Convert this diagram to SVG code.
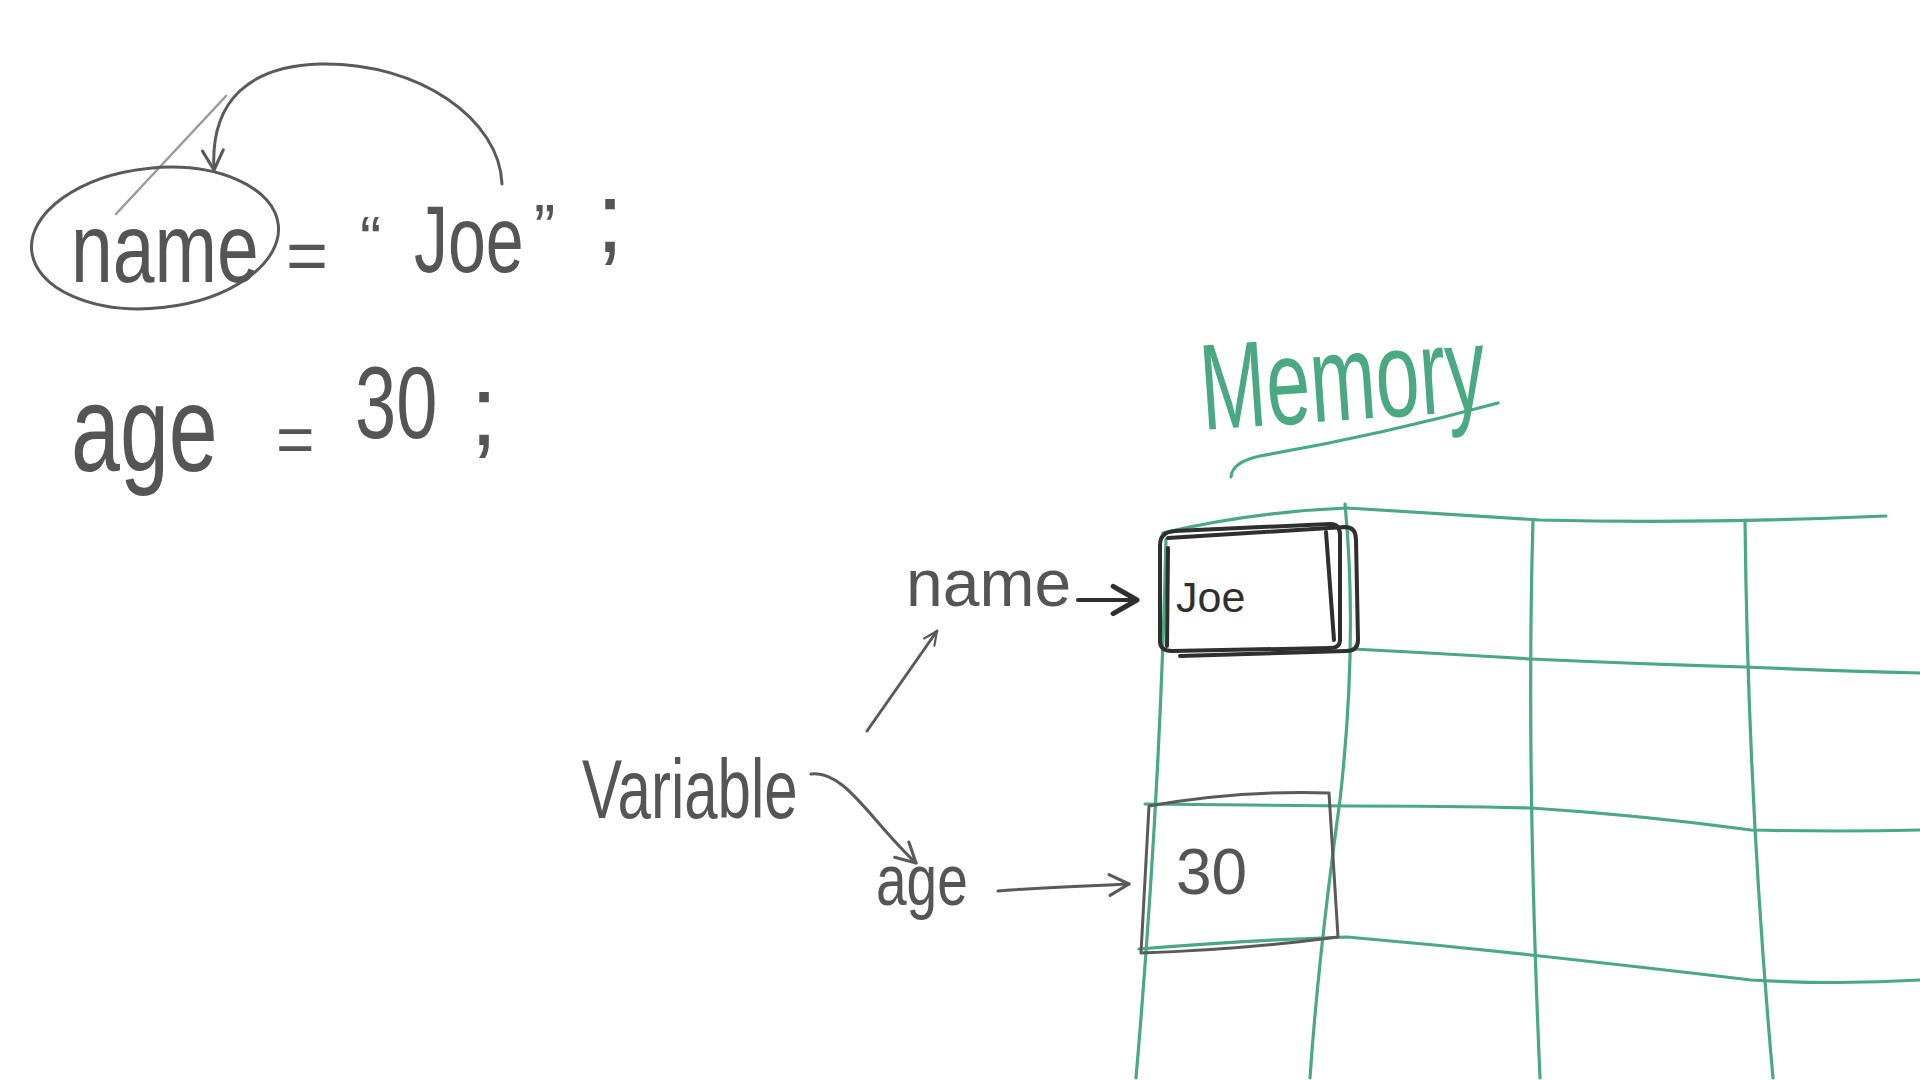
<svg xmlns="http://www.w3.org/2000/svg" width="1920" height="1080" viewBox="0 0 1920 1080">
<style>
.pencil{fill:none;stroke:#5a5a5a;stroke-width:3;stroke-linecap:round;stroke-linejoin:round}
.faint{fill:none;stroke:#9a9a9a;stroke-width:2.5;stroke-linecap:round}
.ink{fill:none;stroke:#2f2f2f;stroke-width:4;stroke-linecap:round;stroke-linejoin:round}
.grid{fill:none;stroke:#4aa883;stroke-width:3.2;stroke-linecap:round;stroke-linejoin:round}
.hand{font-family:"Liberation Sans",Arial,sans-serif;fill:#555555}
.dark{fill:#2f2f2f}
.green{fill:#4aa883}
</style>
<defs>
<marker id="arrGray" viewBox="0 0 20 20" refX="18" refY="10" markerWidth="26" markerHeight="26" markerUnits="userSpaceOnUse" orient="auto">
<path d="M3,2 L18,10 L3,18" fill="none" stroke="#5a5a5a" stroke-width="2.4" stroke-linecap="round" stroke-linejoin="round"/>
</marker>
<marker id="arrSmall" viewBox="0 0 20 20" refX="18" refY="10" markerWidth="18" markerHeight="18" markerUnits="userSpaceOnUse" orient="auto">
<path d="M3,3 L18,10 L3,17" fill="none" stroke="#5a5a5a" stroke-width="2.4" stroke-linecap="round" stroke-linejoin="round"/>
</marker>
<marker id="arrDark" viewBox="0 0 20 20" refX="17" refY="10" markerWidth="34" markerHeight="34" markerUnits="userSpaceOnUse" orient="auto">
<path d="M3,2 L17,10 L3,18" fill="none" stroke="#2f2f2f" stroke-width="3" stroke-linecap="round" stroke-linejoin="round"/>
</marker>
</defs>
<rect width="1920" height="1080" fill="#ffffff"/>

<!-- Code: name = "Joe"; -->
<g id="code-name">
<line class="faint" x1="116" y1="214" x2="226" y2="96"/>
<ellipse class="pencil" cx="155" cy="238" rx="124" ry="70" transform="rotate(-6 155 238)"/>
<text class="hand" transform="translate(71,282) scale(1,1.3)" font-size="75">name</text>
</g>
<g id="code-name-value">
<text class="hand" x="286" y="280" font-size="72">=</text>
<text class="hand" x="360" y="262" font-size="64">“</text>
<text class="hand" transform="translate(414,272) scale(1,1.4)" font-size="68">Joe</text>
<text class="hand" x="534" y="250" font-size="64">”</text>
<text class="hand" x="596" y="252" font-size="100">;</text>
</g>

<!-- Code: age = 30; -->
<g id="code-age">
<text class="hand" transform="translate(71,471) scale(1,1.4)" font-size="88">age</text>
<text class="hand" x="276" y="462" font-size="66">=</text>
<text class="hand" transform="translate(355,438) scale(1,1.38)" font-size="74">30</text>
<text class="hand" x="470" y="445" font-size="100">;</text>
</g>

<!-- Memory title -->
<g id="memory-title">
<text class="hand green" transform="translate(1203,430) rotate(-4) scale(1,1.55)" font-size="79">Memory</text>
<path class="grid" d="M1231,477 Q1232,462 1260,456 Q1380,435 1498,403"/>
</g>

<!-- Memory grid -->
<g id="memory-grid">
<path class="grid" d="M1163,533 Q1250,512 1347,508 Q1450,514 1540,520 Q1700,524 1886,516"/>
<path class="grid" d="M1353,649 Q1450,654 1531,659 Q1640,664 1745,667 Q1840,671 1920,673"/>
<path class="grid" d="M1145,804 Q1250,805 1347,806 Q1450,806 1531,808 Q1640,815 1751,830 Q1840,832 1920,830"/>
<path class="grid" d="M1139,949 Q1250,940 1347,937 Q1440,945 1531,955 Q1650,968 1751,980 Q1840,985 1920,980"/>
<path class="grid" d="M1166,539 Q1160,800 1136,1078"/>
<path class="grid" d="M1345,504 Q1358,640 1340,800 Q1318,960 1310,1078"/>
<path class="grid" d="M1533,520 Q1526,760 1540,1078"/>
<path class="grid" d="M1745,520 Q1748,800 1773,1078"/>
</g>

<!-- Cell holding Joe -->
<g id="cell-joe">
<path class="ink" d="M1160,545 Q1160,532 1175,531 L1330,524 Q1340,524 1340,535 L1340,640 Q1340,648 1330,648 L1172,651 Q1160,651 1160,641 Z"/>
<path class="ink" d="M1168,538 L1345,527 Q1356,527 1356,540 L1358,640 Q1358,651 1346,651 L1180,656" stroke-width="2.5"/>
<path class="ink" d="M1168,548 L1167,646" stroke-width="2.5"/>
<path class="ink" d="M1326,532 L1334,640" stroke-width="2.5"/>
<text class="hand dark" x="1176" y="612" font-size="43">Joe</text>
</g>

<!-- Cell holding 30 -->
<g id="cell-age">
<path class="pencil" d="M1149,806 Q1240,790 1329,793 L1338,937 Q1240,950 1141,953 Z"/>
<text class="hand" x="1176" y="894" font-size="64">30</text>
</g>

<!-- Labels -->
<g id="label-name">
<text class="hand" x="906" y="606" font-size="66">name</text>
</g>
<g id="label-variable">
<text class="hand" transform="translate(582,818) scale(1,1.4)" font-size="60">Variable</text>
</g>
<g id="label-age">
<text class="hand" transform="translate(876,905) scale(1,1.3)" font-size="55">age</text>
</g>

<!-- Connectors -->
<g id="connectors">
<path class="pencil" d="M502,184 C500,120 420,62 320,64 C250,66 210,100 214,170" marker-end="url(#arrGray)"/>
<path class="pencil" d="M867,731 L937,631" stroke-width="2.5" marker-end="url(#arrSmall)"/>
<path class="pencil" d="M811,774 C845,770 870,820 916,863" marker-end="url(#arrGray)"/>
<path class="ink" d="M1078,600 L1137,600" marker-end="url(#arrDark)"/>
<path class="pencil" d="M998,891 C1040,887 1090,886 1129,884" marker-end="url(#arrGray)"/>
</g>
</svg>
